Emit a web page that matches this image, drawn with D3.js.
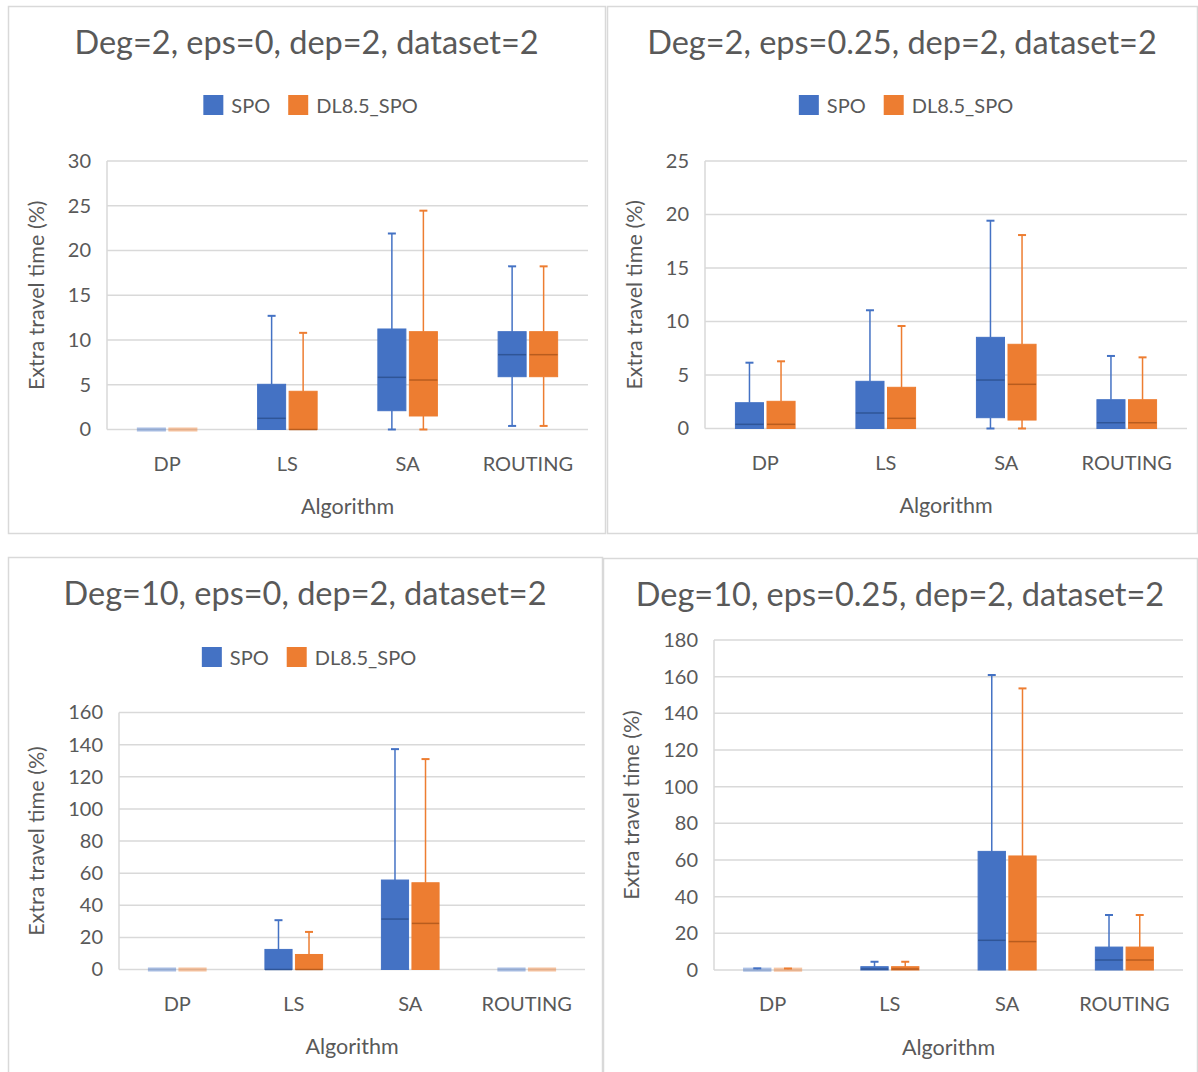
<!DOCTYPE html>
<html>
<head>
<meta charset="utf-8">
<script src="https://cdn.jsdelivr.net/npm/d3@7"></script>
<style>
  body { margin: 0; background: #fff; }
  svg text { font-family: Lato, "Open Sans", sans-serif; fill: #595959; }
</style>
</head>
<body>
<svg id="chart" width="1198" height="1072"></svg>
<script>
// categories and series
const categories = ["DP", "LS", "SA", "ROUTING"];
const seriesNames = ["SPO", "DL8.5_SPO"];
const titles = [
  "Deg=2, eps=0, dep=2, dataset=2",
  "Deg=2, eps=0.25, dep=2, dataset=2",
  "Deg=10, eps=0, dep=2, dataset=2",
  "Deg=10, eps=0.25, dep=2, dataset=2"
];
const yTitle = "Extra travel time (%)";
const xTitle = "Algorithm";

// y tick labels for each panel
const ticks1 = [0, 5, 10, 15, 20, 25, 30];
const ticks2 = [0, 5, 10, 15, 20, 25];
const ticks3 = [0, 20, 40, 60, 80, 100, 120, 140, 160];
const ticks4 = [0, 20, 40, 60, 80, 100, 120, 140, 160, 180];

// box stats per category: [min, q1, median, q3, max]
const p1Spo = [[0, 0, 0, 0, 0], [0, 0, 1.25, 5.05, 12.7], [0, 2.1, 5.83, 11.23, 21.9], [0.4, 5.9, 8.36, 10.93, 18.23]];
const p1Dl  = [[0, 0, 0, 0, 0], [0, 0, 0, 4.27, 10.8], [0, 1.51, 5.53, 10.93, 24.45], [0.4, 5.9, 8.36, 10.93, 18.23]];
const p2Spo = [[0, 0, 0.39, 2.41, 6.15], [0, 0, 1.45, 4.41, 11.05], [0, 1.01, 4.53, 8.52, 19.42], [0, 0, 0.54, 2.69, 6.78]];
const p2Dl  = [[0, 0, 0.39, 2.54, 6.28], [0, 0, 0.95, 3.85, 9.58], [0, 0.79, 4.13, 7.87, 18.08], [0, 0, 0.54, 2.69, 6.65]];
const p3Spo = [[0, 0, 0, 0, 0], [0, 0, 0, 12.5, 30.7], [0, 0, 31.4, 55.7, 137.2], [0, 0, 0, 0, 0]];
const p3Dl  = [[0, 0, 0, 0, 0], [0, 0, 0, 9.35, 23.4], [0, 0, 28.7, 54, 131], [0, 0, 0, 0, 0]];
const p4Spo = [[0, 0, 0, 0.4, 0.9], [0, 0, 0.5, 1.8, 4.5], [0, 0, 16.2, 64.7, 160.9], [0, 0, 5.45, 12.5, 30]];
const p4Dl  = [[0, 0, 0, 0.4, 0.8], [0, 0, 0.5, 1.8, 4.5], [0, 0, 15.5, 62.2, 153.6], [0, 0, 5.45, 12.5, 30]];

// styles
const fills = ["#4472C4", "#ED7D31"];
const medianColors = ["#2F5597", "#B85C1E"];
const gridColor = "#d9d9d9";

// layout of the four panels (frame and plot area)
const panels = [
  { title: titles[0], stats: [p1Spo, p1Dl], ticks: ticks1, frame: [8, 6, 605, 533], plot: [107, 161, 588, 429.5], legendY: 95 },
  { title: titles[1], stats: [p2Spo, p2Dl], ticks: ticks2, frame: [607, 6, 1197, 533], plot: [705, 161, 1187, 428.5], legendY: 95 },
  { title: titles[2], stats: [p3Spo, p3Dl], ticks: ticks3, frame: [8, 557, 602, 1080], plot: [119, 712.5, 585, 969.5], legendY: 647 },
  { title: titles[3], stats: [p4Spo, p4Dl], ticks: ticks4, frame: [603, 558, 1197, 1080], plot: [714, 640, 1183, 970], legendY: null }
];

var svg = d3.select("#chart");

panels.forEach(function(p) {
  var g = svg.append("g");
  var fx0 = p.frame[0], fy0 = p.frame[1], fx1 = p.frame[2], fy1 = p.frame[3];
  var left = p.plot[0], top = p.plot[1], right = p.plot[2], bottom = p.plot[3];
  var cx = (fx0 + fx1) / 2;

  //frame
  g.append("rect")
    .attr("x", fx0 + 0.5).attr("y", fy0 + 0.5)
    .attr("width", fx1 - fx0).attr("height", fy1 - fy0)
    .attr("fill", "#fff").attr("stroke", gridColor).attr("stroke-width", 1.5);

  //title
  g.append("text")
    .attr("x", cx).attr("y", fy0 + 47.5)
    .attr("text-anchor", "middle")
    .style("font-size", "32.5px")
    .text(p.title);

  //scales
  var y = d3.scaleLinear().domain([0, p.ticks[p.ticks.length - 1]]).range([bottom, top]);
  var x = d3.scaleBand().domain(categories).range([left, right]).padding(0);
  var half = x.bandwidth() * 0.2475;
  var xs = d3.scaleBand().domain(seriesNames).range([-half, half]).paddingInner(0.111);

  //gridlines
  g.append("g").selectAll("line").data(p.ticks).join("line")
    .attr("x1", left).attr("x2", right)
    .attr("y1", d => y(d)).attr("y2", d => y(d))
    .attr("stroke", gridColor).attr("stroke-width", 1.5);
  g.append("line")
    .attr("x1", left).attr("x2", left).attr("y1", top).attr("y2", bottom)
    .attr("stroke", gridColor).attr("stroke-width", 1.5);

  //y axis labels
  var yAxis = d3.axisLeft(y).tickValues(p.ticks).tickSize(0).tickPadding(16);
  var ya = g.append("g").attr("transform", "translate(" + left + ",0)").call(yAxis);
  ya.select(".domain").remove();
  ya.selectAll("text").style("font-size", "20px").attr("fill", "#595959");
  var labelW = d3.max(ya.selectAll("text").nodes(), n => n.getComputedTextLength());

  //x axis labels
  var xAxis = d3.axisBottom(x).tickSize(0).tickPadding(27);
  var xa = g.append("g").attr("transform", "translate(0," + bottom + ")").call(xAxis);
  xa.select(".domain").remove();
  xa.selectAll("text").style("font-size", "20px").attr("fill", "#595959");

  //axis titles
  g.append("text")
    .attr("transform", "translate(" + (left - 16 - labelW - 32) + "," + ((top + bottom) / 2) + ") rotate(-90)")
    .attr("text-anchor", "middle")
    .attr("dominant-baseline", "central")
    .style("font-size", "21.5px")
    .text(yTitle);
  g.append("text")
    .attr("x", (left + right) / 2).attr("y", bottom + 84.5)
    .attr("text-anchor", "middle")
    .style("font-size", "21.5px")
    .text(xTitle);

  //boxes
  seriesNames.forEach(function(s, si) {
    var col = fills[si];
    p.stats[si].forEach(function(st, ci) {
      var bx = x(categories[ci]) + x.bandwidth() / 2 + xs(s);
      var bw = xs.bandwidth();
      var mid = bx + bw / 2;
      var bg = g.append("g");
      var yq1 = y(st[1]), yq3 = y(st[3]);
      var h = yq1 - yq3;
      var flat = h < 3;
      //whiskers
      if (st[4] > st[3]) {
        bg.append("line").attr("x1", mid).attr("x2", mid).attr("y1", yq3).attr("y2", y(st[4]))
          .attr("stroke", col).attr("stroke-width", 1.5);
        bg.append("line").attr("x1", mid - 4).attr("x2", mid + 4).attr("y1", y(st[4])).attr("y2", y(st[4]))
          .attr("stroke", col).attr("stroke-width", 2);
      }
      if (st[0] < st[1]) {
        bg.append("line").attr("x1", mid).attr("x2", mid).attr("y1", yq1).attr("y2", y(st[0]))
          .attr("stroke", col).attr("stroke-width", 1.5);
        bg.append("line").attr("x1", mid - 4).attr("x2", mid + 4).attr("y1", y(st[0])).attr("y2", y(st[0]))
          .attr("stroke", col).attr("stroke-width", 2);
      }
      //box
      bg.append("rect")
        .attr("x", bx).attr("width", bw)
        .attr("y", flat ? (yq1 + yq3) / 2 - 1.5 : yq3)
        .attr("height", flat ? 3 : h)
        .attr("fill", col)
        .attr("stroke", col).attr("stroke-width", 1)
        .attr("opacity", flat ? 0.45 : 1);
      //median
      if (!flat) {
        bg.append("line").attr("x1", bx).attr("x2", bx + bw)
          .attr("y1", y(st[2])).attr("y2", y(st[2]))
          .attr("stroke", medianColors[si]).attr("stroke-width", 1.5);
      }
    });
  });

  //legend
  if (p.legendY !== null) {
    var lg = g.append("g");
    var xpos = 0;
    seriesNames.forEach(function(s, si) {
      lg.append("rect").attr("x", xpos).attr("y", p.legendY).attr("width", 20).attr("height", 20)
        .attr("fill", fills[si]);
      var t = lg.append("text").attr("x", xpos + 28).attr("y", p.legendY + 18)
        .style("font-size", "20px").text(s);
      xpos += 28 + t.node().getComputedTextLength() + 18;
    });
    var lw = xpos - 18;
    lg.attr("transform", "translate(" + (cx + 4 - lw / 2) + ",0)");
  }
});
</script>
</body>
</html>
